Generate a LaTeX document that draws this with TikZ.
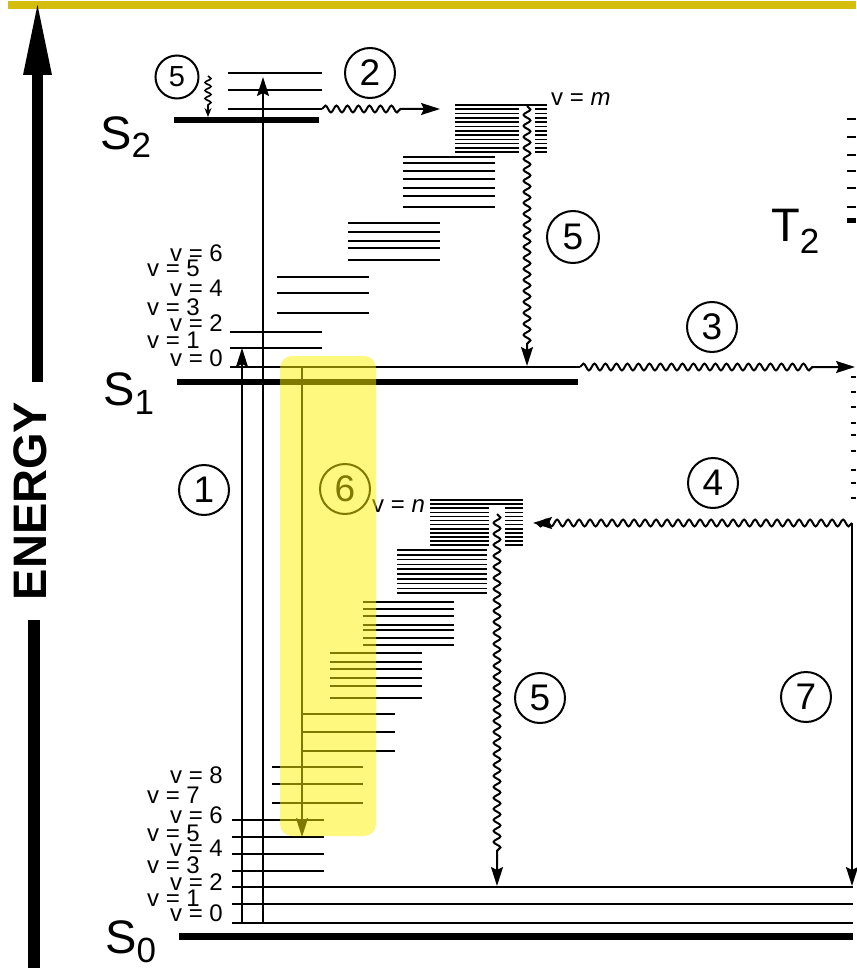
\documentclass[tikz,border=0pt]{standalone}
\usepackage{fontspec}
\setmainfont{Liberation Sans}
\usetikzlibrary{arrows.meta,decorations.pathmorphing}
\definecolor{topbar}{RGB}{212,189,12}
\begin{document}
\begin{tikzpicture}[x=1pt,y=-1pt,
  lvl/.style={line width=2pt},
  dense/.style={line width=1.6pt},
  bar/.style={line width=6.5pt},
  num/.style={circle, draw, line width=2pt, minimum size=50pt, inner sep=0pt, font=\fontsize{37}{37}\selectfont},
  vlab/.style={inner sep=0pt, font=\fontsize{24}{24}\selectfont},
  bigS/.style={inner sep=0pt, anchor=base west, font=\fontsize{47}{47}\selectfont},
  arr/.style={line width=2pt, -{Stealth[length=19pt,width=12pt,inset=3pt]}},
  wavy/.style={line width=2pt, decorate, decoration={snake, amplitude=3.4pt, segment length=11pt, #1}},
  wavy/.default={post length=0pt}
]
\useasboundingbox (0,0) rectangle (856,968);
\fill[white] (0,0) rectangle (856,968);
% top bar
\fill[topbar] (8,1) rectangle (856,9);
% energy axis
\fill (23,75) -- (37.5,5) -- (52,75) -- cycle;
\fill (31.5,74) rectangle (43,382);
\fill (27.5,620) rectangle (40,968);
\node[rotate=90, font=\bfseries\fontsize{47}{47}\selectfont, inner sep=0pt] (energy) at (30,501) {ENERGY};

% ---- state labels
\node[bigS] (S2) at (100,150) {S\raisebox{-8pt}{\fontsize{35}{35}\selectfont 2}};
\node[bigS] (S1) at (103,405) {S\raisebox{-9pt}{\fontsize{35}{35}\selectfont 1}};
\node[bigS] (S0) at (105,953) {S\raisebox{-9pt}{\fontsize{35}{35}\selectfont 0}};
\node[bigS] (T2) at (771,242) {T\raisebox{-11pt}{\fontsize{35}{35}\selectfont 2}};

% ---- S2 manifold
\draw[bar] (174,120) -- (319,120);
\foreach \y in {73,90,109} \draw[lvl] (228,\y) -- (322,\y);

% ---- isoenergetic S1 levels (top dense block)
\draw[dense] (455,105) -- (547,105);
\foreach \k in {1,...,11} {
  \draw[dense] (455,105+4.3*\k) -- (519,105+4.3*\k);
  \draw[dense] (535,105+4.3*\k) -- (547,105+4.3*\k);
}
\foreach \y in {157,163,171,179,188,196,207} \draw[dense] (403,\y) -- (495,\y);
\foreach \y in {223,232,241,248,260} \draw[lvl] (348,\y) -- (440,\y);
\foreach \y in {277,293,313} \draw[lvl] (277,\y) -- (369,\y);
\foreach \y in {332,348} \draw[lvl] (230,\y) -- (322,\y);
\draw[lvl] (230,367) -- (580,367);
\draw[bar] (177,382) -- (578,382);

% ---- S0 manifold and isoenergetic levels
\draw[dense] (430,500) -- (523,500);
\draw[dense] (430,504) -- (523,504);
\foreach \k in {2,...,11} {
  \draw[dense] (430,500+4.1*\k) -- (489,500+4.1*\k);
  \draw[dense] (505,500+4.1*\k) -- (523,500+4.1*\k);
}
\foreach \k in {0,...,9} \draw[dense] (397,550+4.8*\k) -- (487,550+4.8*\k);
\foreach \y in {602,609,616,625,630,638,645} \draw[dense] (363,\y) -- (454,\y);
\foreach \y in {653,662,669,678,686,698} \draw[lvl] (330,\y) -- (422,\y);
\foreach \y in {714,732,751} \draw[lvl] (303,\y) -- (395,\y);
\foreach \y in {767,784,803} \draw[lvl] (272,\y) -- (363,\y);
\foreach \y in {820,837,854,871} \draw[lvl] (232,\y) -- (324,\y);
\foreach \y in {887,904,923} \draw[lvl] (232,\y) -- (853,\y);
\draw[line width=7pt] (179,936) -- (853,936);

% ---- triplet levels at right edge
\foreach \y in {119,137,155,171,188,207} \draw[lvl] (847,\y) -- (856,\y);
\draw[line width=5pt] (847,221) -- (856,221);
\foreach \y in {377,392,407,423,435,451,470,483,498} \draw[lvl] (851,\y) -- (856,\y);

% ---- vibrational labels
\foreach \v/\x/\y in {6/223/253,5/200/268,4/223/288,3/200/307,2/223/323,1/200/340,0/223/358}
  \node[vlab, anchor=base east] (s1lab\v) at (\x,\y+8.5) {v = \v};
\foreach \v/\x/\y in {8/223/775,7/200/795,6/223/815,5/200/833,4/223/848,3/200/865,2/223/882,1/200/898,0/223/913}
  \node[vlab, anchor=base east] (s0lab\v) at (\x,\y+8.5) {v = \v};
\node[vlab, anchor=base west] (vm) at (551,106) {v = \textit{m}};
\node[vlab, anchor=base west] (vn) at (372,512) {v = \textit{n}};

% ---- coordinates for transitions
\coordinate (a1s) at (242,923);  \coordinate (a1e) at (242,348);
\coordinate (a2s) at (263,923);  \coordinate (a2e) at (263,77);
\coordinate (icS) at (322,109);  \coordinate (icE) at (440,109);
\coordinate (vrTs) at (208,76);  \coordinate (vrTe) at (208,117);
\coordinate (vrMs) at (527,106); \coordinate (vrMe) at (527,366);
\coordinate (iscS) at (580,367); \coordinate (iscE) at (855,367);
\coordinate (t1) at (852,523);   \coordinate (rIscE) at (533,523);
\coordinate (vrLs) at (497,514); \coordinate (vrLe) at (497,886);
\coordinate (phE) at (852,886);
\coordinate (flS) at (302,367);  \coordinate (flE) at (302,837);

% absorption
\draw[arr] (a1s) -- (a1e);
\draw[arr] (a2s) -- (a2e);
% internal conversion S2 -> S1
\draw[arr, wavy={post length=36pt}] (icS) -- (icE);
% vibrational relaxation
\draw[line width=1.6pt, -{Stealth[length=9pt,width=7pt]}, decorate, decoration={snake, amplitude=3pt, segment length=8pt, post length=10pt}] (vrTs) -- (vrTe);
\draw[arr, wavy={post length=18pt}] (vrMs) -- (vrMe);
\draw[arr, wavy={post length=30pt}] (vrLs) -- (vrLe);
% intersystem crossing
\draw[arr, wavy={post length=42pt}] (iscS) -- (iscE);
\draw[arr, wavy={pre length=0pt, post length=0pt}] (t1) -- (580,523) -- (rIscE);
% phosphorescence
\draw[arr] (t1) -- (phE);
% fluorescence
\draw[arr] (flS) -- (flE);

% ---- circled numbers
\node[num, minimum size=43pt, font=\fontsize{29}{29}\selectfont] (n5a) at (177,77) {5};
\node[num] (n2) at (370,73) {2};
\node[num, minimum size=52pt] (n5b) at (573,237) {5};
\node[num] (n3) at (712,327) {3};
\node[num] (n1) at (204,490) {1};
\node[num] (n6) at (345,489) {6};
\node[num] (n4) at (713,483) {4};
\node[num] (n5c) at (540,698) {5};
\node[num] (n7) at (806,697) {7};

% ---- highlight
\fill[yellow, opacity=0.5, rounded corners=12pt] (280,356) rectangle (376,836);
\end{tikzpicture}
\end{document}
